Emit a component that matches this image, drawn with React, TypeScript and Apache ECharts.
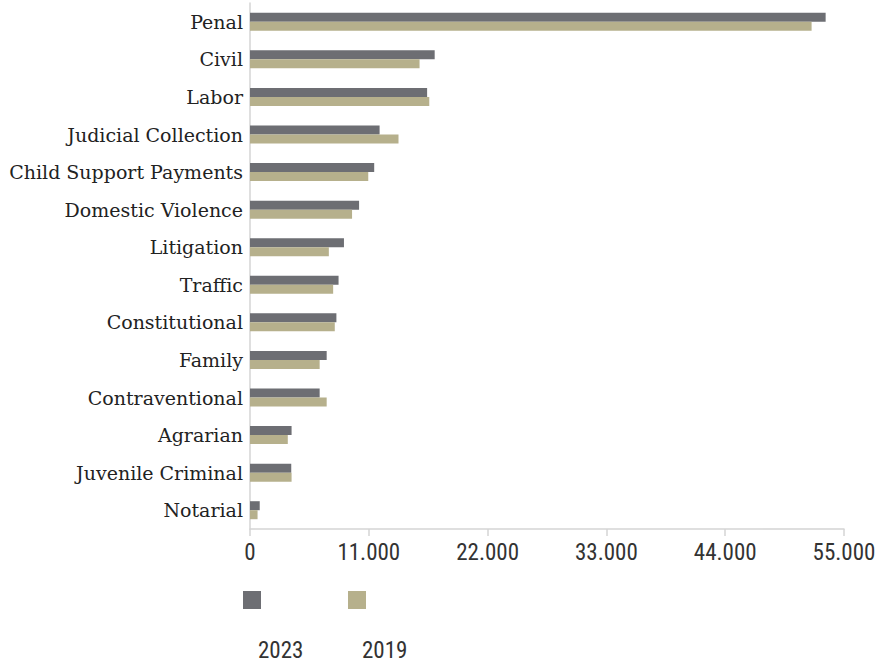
import React, { useEffect, useRef } from "react";
import * as echarts from "echarts";

const categories = [
  "Penal",
  "Civil",
  "Labor",
  "Judicial Collection",
  "Child Support Payments",
  "Domestic Violence",
  "Litigation",
  "Traffic",
  "Constitutional",
  "Family",
  "Contraventional",
  "Agrarian",
  "Juvenile Criminal",
  "Notarial",
];

const values2023 = [53300, 17100, 16400, 12000, 11500, 10100, 8700, 8200, 8000, 7100, 6450, 3850, 3820, 900];
const values2019 = [52000, 15700, 16600, 13750, 10950, 9450, 7300, 7700, 7850, 6450, 7100, 3500, 3850, 700];

const xTicks = [0, 11000, 22000, 33000, 44000, 55000];
const seriesNames = ["2023", "2019"];
const colors = ["#6d6e73", "#b6b08c"];

function fmt(v: number): string {
  return String(v).replace(/\B(?=(\d{3})+(?!\d))/g, ".");
}

export default function App() {
  const ref = useRef<HTMLDivElement>(null);
  useEffect(() => {
    if (!ref.current) return;
    const chart = echarts.init(ref.current, undefined, { renderer: "svg" });
    const sansFont = "'Liberation Sans Narrow', 'Roboto Condensed', Roboto, sans-serif";
    chart.setOption({
      animation: false,
      backgroundColor: "#ffffff",
      grid: { left: 250, right: 39, top: 3, height: 526, containLabel: false },
      xAxis: {
        type: "value",
        min: xTicks[0],
        max: xTicks[xTicks.length - 1],
        interval: 11000,
        splitLine: { show: false },
        axisLine: { show: true, lineStyle: { color: "#d4d4d4", width: 1.5 } },
        axisTick: { show: true, length: 7, lineStyle: { color: "#d4d4d4", width: 1.5 } },
        axisLabel: {
          formatter: (v: number) => fmt(v),
          fontFamily: sansFont,
          fontSize: 23,
          color: "#333333",
          margin: 12,
        },
      },
      yAxis: {
        type: "category",
        data: categories,
        inverse: true,
        axisTick: { show: false },
        axisLine: { show: true, lineStyle: { color: "#d4d4d4", width: 1.5 } },
        axisLabel: {
          fontFamily: "'DejaVu Serif', 'Liberation Serif', serif",
          fontSize: 19,
          color: "#222222",
          margin: 7,
        },
      },
      series: [
        {
          name: seriesNames[0],
          type: "bar",
          data: values2023,
          barWidth: 9,
          barGap: "0%",
          itemStyle: { color: colors[0] },
        },
        {
          name: seriesNames[1],
          type: "bar",
          data: values2019,
          barWidth: 9,
          barGap: "0%",
          itemStyle: { color: colors[1] },
        },
      ],
      graphic: [
        { type: "rect", left: 243, top: 591, shape: { width: 18, height: 18 }, style: { fill: colors[0] } },
        { type: "rect", left: 348, top: 591, shape: { width: 18, height: 18 }, style: { fill: colors[1] } },
        {
          type: "text",
          x: 258,
          y: 650,
          style: { text: seriesNames[0], font: `23px ${sansFont}`, fill: "#333333", textAlign: "left", textVerticalAlign: "middle" },
        },
        {
          type: "text",
          x: 362,
          y: 650,
          style: { text: seriesNames[1], font: `23px ${sansFont}`, fill: "#333333", textAlign: "left", textVerticalAlign: "middle" },
        },
      ],
    });
    return () => chart.dispose();
  }, []);
  return (
    <div
      ref={ref}
      style={{ position: "fixed", left: 0, top: 0, width: 883, height: 663 }}
    />
  );
}
